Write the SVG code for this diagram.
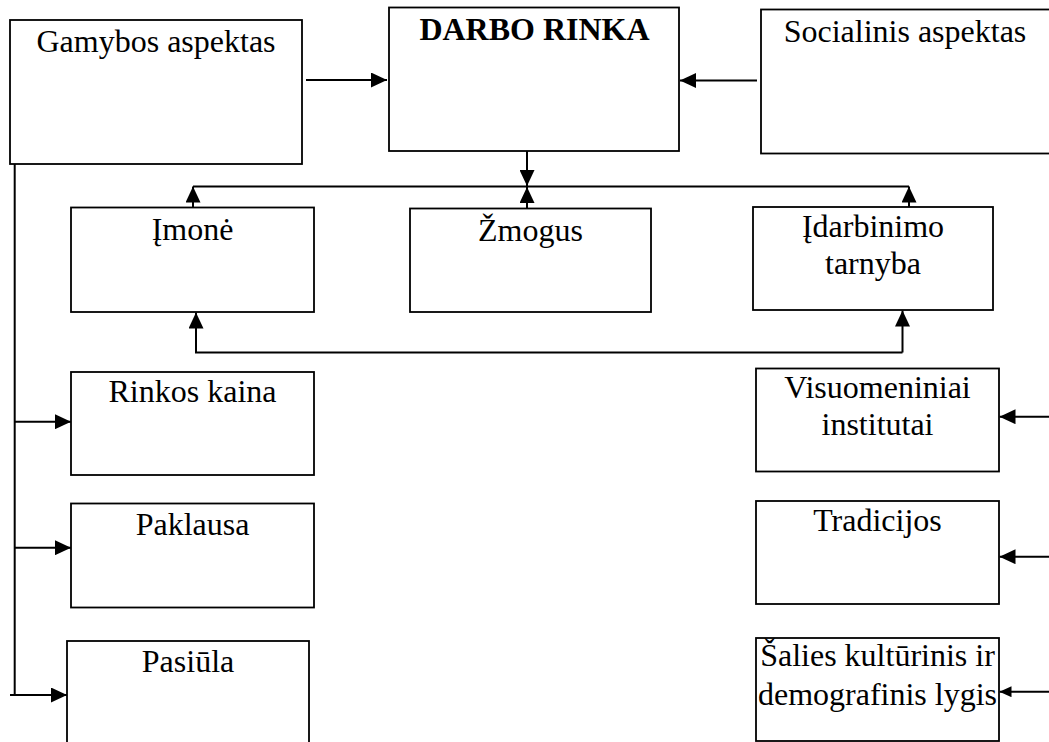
<svg xmlns="http://www.w3.org/2000/svg" width="1049" height="742" viewBox="0 0 1049 742">
<style>
.box{fill:#fff;stroke:#000;stroke-width:1.8}
.t{font-family:"Liberation Serif","Times New Roman",serif;font-size:32px;fill:#000;text-anchor:middle}
.b{font-weight:bold}
.c{fill:none;stroke:#000;stroke-width:2}
</style>
<defs>
<marker id="ah" markerUnits="userSpaceOnUse" markerWidth="16" markerHeight="15" refX="16" refY="7.5" orient="auto">
<path d="M0,0 L16,7.5 L0,15 Z" fill="#000"/>
</marker>
<marker id="ahs" markerUnits="userSpaceOnUse" markerWidth="12" markerHeight="11" refX="12" refY="5.5" orient="auto">
<path d="M0,0 L12,5.5 L0,11 Z" fill="#000"/>
</marker>
</defs>
<rect width="1049" height="742" fill="#fff"/>
<g id="connectors">
<line class="c" x1="306" y1="80" x2="387" y2="80" marker-end="url(#ah)"/>
<line class="c" x1="757" y1="80.5" x2="680" y2="80.5" marker-end="url(#ah)"/>
<line class="c" x1="527" y1="151" x2="527" y2="186" marker-end="url(#ah)"/>
<line class="c" x1="193" y1="186.5" x2="909" y2="186.5"/>
<line class="c" x1="193" y1="207" x2="193" y2="186.5" marker-end="url(#ah)"/>
<line class="c" x1="527" y1="208" x2="527" y2="187" marker-end="url(#ah)"/>
<line class="c" x1="909" y1="207" x2="909" y2="186.5" marker-end="url(#ah)"/>
<polyline class="c" points="902.5,352.5 196,352.5 196,312.5" marker-end="url(#ah)"/>
<line class="c" x1="902.5" y1="352.5" x2="902.5" y2="310.5" marker-end="url(#ah)"/>
<line class="c" x1="14.7" y1="162" x2="14.7" y2="696"/>
<line class="c" x1="14.7" y1="421.7" x2="71" y2="421.7" marker-end="url(#ah)"/>
<line class="c" x1="14.7" y1="547.7" x2="71" y2="547.7" marker-end="url(#ah)"/>
<line class="c" x1="10" y1="695" x2="67" y2="695" marker-end="url(#ah)"/>
<line class="c" x1="1050" y1="416.7" x2="999.5" y2="416.7" marker-end="url(#ah)"/>
<line class="c" x1="1050" y1="556.7" x2="999.5" y2="556.7" marker-end="url(#ah)"/>
<line class="c" x1="1050" y1="691.7" x2="999.5" y2="691.7" marker-end="url(#ahs)"/>
</g>
<g id="gamybos"><rect class="box" x="10" y="20" width="292" height="144"/><text class="t" x="156" y="52">Gamybos aspektas</text></g>
<g id="darbo-rinka"><rect class="box" x="389" y="7.5" width="290" height="143.5"/><text class="t b" x="534.5" y="39.5">DARBO RINKA</text></g>
<g id="socialinis"><rect class="box" x="761" y="9.5" width="300" height="144"/><text class="t" x="905" y="42">Socialinis aspektas</text></g>
<g id="imone"><rect class="box" x="71" y="207.5" width="243" height="104.5"/><text class="t" x="192.5" y="240">Įmonė</text></g>
<g id="zmogus"><rect class="box" x="410" y="208.5" width="241" height="103.5"/><text class="t" x="530.5" y="241">Žmogus</text></g>
<g id="idarbinimo"><rect class="box" x="753" y="207" width="240" height="103"/><text class="t" x="873" y="236.5">Įdarbinimo</text><text class="t" x="873" y="274">tarnyba</text></g>
<g id="rinkos-kaina"><rect class="box" x="71" y="372" width="243" height="103"/><text class="t" x="192.5" y="402">Rinkos kaina</text></g>
<g id="paklausa"><rect class="box" x="71" y="503.5" width="243" height="104"/><text class="t" x="192.5" y="535">Paklausa</text></g>
<g id="pasiula"><rect class="box" x="67" y="641" width="242" height="120"/><text class="t" x="188" y="671.5">Pasiūla</text></g>
<g id="visuomeniniai"><rect class="box" x="756" y="368.5" width="243" height="103"/><text class="t" x="877.5" y="397.5">Visuomeniniai</text><text class="t" x="877.5" y="435">institutai</text></g>
<g id="tradicijos"><rect class="box" x="756" y="501" width="243" height="103"/><text class="t" x="877.5" y="531">Tradicijos</text></g>
<g id="salies"><rect class="box" x="756" y="638" width="243" height="103"/><text class="t" x="877.5" y="666">Šalies kultūrinis ir</text><text class="t" x="877.5" y="704.5">demografinis lygis</text></g>
</svg>
